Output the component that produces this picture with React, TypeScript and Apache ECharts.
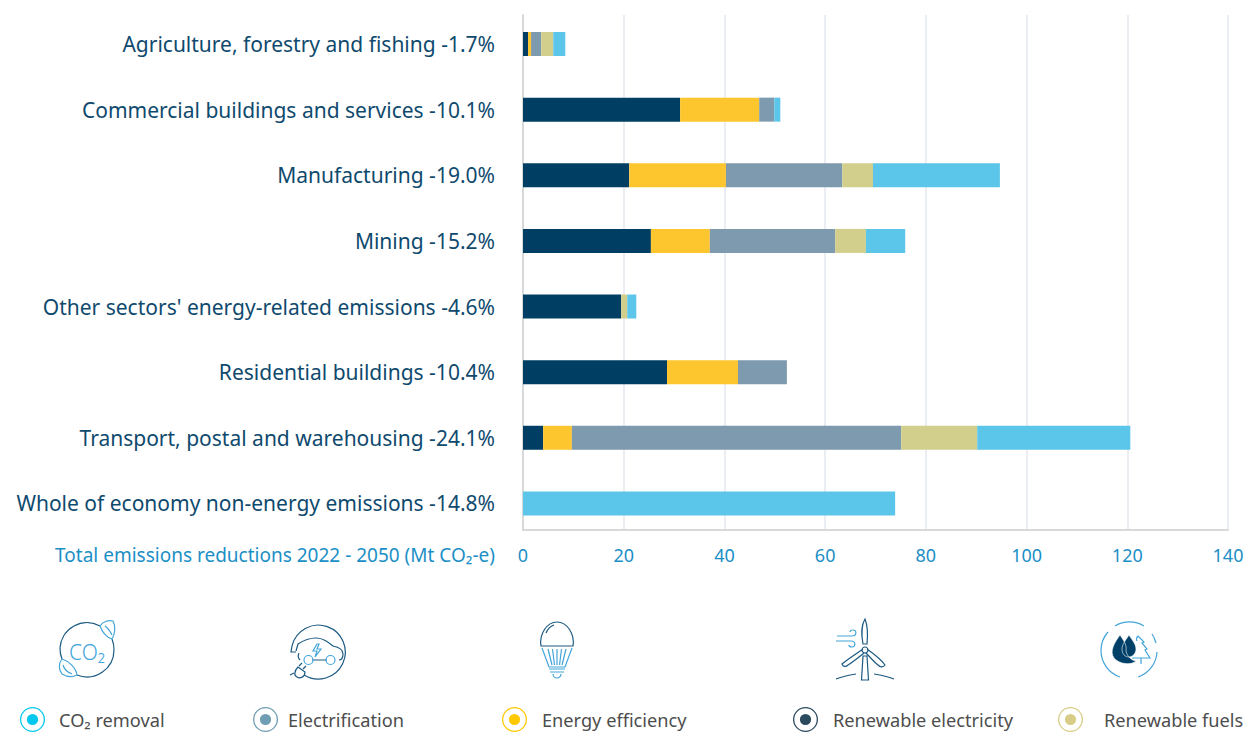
import React, { useEffect, useRef } from "react";
import * as echarts from "echarts";

const categories = [
  "Agriculture, forestry and fishing -1.7%",
  "Commercial buildings and services -10.1%",
  "Manufacturing -19.0%",
  "Mining -15.2%",
  "Other sectors' energy-related emissions -4.6%",
  "Residential buildings -10.4%",
  "Transport, postal and warehousing -24.1%",
  "Whole of economy non-energy emissions -14.8%",
];
const renewableElectricity = [1.0, 31.2, 21.1, 25.4, 19.5, 28.6, 4.0, 0];
const energyEfficiency = [0.6, 15.7, 19.2, 11.7, 0, 14.1, 5.7, 0];
const electrification = [2.0, 3.0, 23.1, 24.9, 0, 9.7, 65.4, 0];
const renewableFuels = [2.4, 0, 6.1, 6.1, 1.2, 0, 15.1, 0];
const co2Removal = [2.4, 1.2, 25.2, 7.8, 1.8, 0, 30.4, 73.9];
const axisTitle = "Total emissions reductions 2022 - 2050 (Mt CO₂-e)";

const FONT = "'Noto Sans'";
const DARK = "#1c5a82";
const BLUE = "#43a5da";

const ringIcon =
  "path://M0 -12.5A12.5 12.5 0 1 1 0 12.5A12.5 12.5 0 1 1 0 -12.5Z" +
  "M0 -11.2A11.2 11.2 0 1 0 0 11.2A11.2 11.2 0 1 0 0 -11.2Z" +
  "M0 -5.6A5.6 5.6 0 1 1 0 5.6A5.6 5.6 0 1 1 0 -5.6Z";

const shapes: Record<string, string> = {
  co2Ring:
    "M13 -24A27 27 0 0 0 -27 -2A27 27 0 0 0 -25 9M-10 25A27 27 0 0 0 27 0A27 27 0 0 0 25 -11",
  co2Leaf:
    "M13 -24C16 -29 22 -30 26 -29C29 -24 28 -16 25 -11C20 -12 15 -18 13 -24ZM18 -24C21 -22 23 -19 25 -15" +
    "M-25 9C-29 14 -28 20 -25 24C-20 27 -14 27 -10 25C-11 18 -18 11 -25 9ZM-24 15C-23 19 -20 22 -15 24",
  carRing: "M-26 -6A27 27 0 1 1 -14 23M-26 -6L-27 0L-22 0",
  carBody:
    "M-22 -1L-20 -8C-14 -12 -8 -14 -2 -14C5 -14 10 -10 15 -6C20 -5 25 -3 25 2C25 6 23 8 21 8M9 8L-6 8M-19 1C-20 3 -20 6 -18 8",
  carWheel:
    "M-14 8A4.5 4.5 0 1 1 -5 8A4.5 4.5 0 1 1 -14 8ZM8 8A4.5 4.5 0 1 1 17 8A4.5 4.5 0 1 1 8 8Z",
  carBolt: "M-1 -8L-5 -1L-1 -1L-3 5L3 -3L-1 -3L1 -8Z",
  carPlug: "M-20 15L-13 20C-13 25 -18 27 -21 25C-24 24 -24 19 -20 15ZM-24 21L-28 23M-19 14L-16 11M-15 17L-12 14",
  bulbTop: "M-16 -2C-18 -14 -10 -26 0 -26C10 -26 18 -14 16 -2ZM-16 -2L16 -2M-11 -15C-9 -20 -6 -22 -3 -23",
  bulbBase:
    "M-15 0L-8 19L8 19L15 0M-9 1L-5 17M-4.5 1L-2.5 17M0 1L0 17M4.5 1L2.5 17M9 1L5 17M-8 21L8 21M-7 24L7 24M-4 26A4 4 0 0 0 4 26",
  turbine:
    "M-2 -6C-4 -16 -3 -26 0 -31C2 -26 3 -16 2 -6ZM2 -1C9 4 16 9 20 15C18 18 15 17 13 15C9 12 5 7 1 3M-2 -1C-9 4 -17 9 -23 14C-22 17 -19 17 -17 15C-12 12 -6 7 -1 3" +
    "M-2 6L-3.5 30L3.5 30L2 6ZM-3 0A3 3 0 1 0 3 0A3 3 0 1 0 -3 0ZM-29 29C-22 26 -15 25 -9 24M9 24C15 25 22 26 29 29",
  wind: "M-28 -14L-13 -14C-8 -14 -8 -20 -12 -20C-14 -20 -15 -19 -15 -18M-29 -9L-14 -9C-9 -9 -9 -3 -13 -3C-15 -3 -16 -4 -16 -5",
  fuelRing:
    "M-14 -24A28 28 0 0 1 15 -24M23 -16A28 28 0 0 1 27 -7M28 2A28 28 0 0 1 9 27M-9 27A28 28 0 0 1 -28 0A28 28 0 0 1 -21 -18",
  fuelDrops:
    "M-9 -15C-5 -9 -2 -5 -3 1C-2 7 4 11 7 11C3 15 -9 15 -15 8C-20 1 -14 -8 -9 -15Z" +
    "M0 -15C3 -10 7 -6 7 -1C7 4 3 7 0 7C-4 7 -7 4 -7 -1C-7 -6 -3 -10 0 -15Z",
  fuelTree:
    "M9 -14L15 -8L13 -7L18 -1L16 0L21 8L3 8M8 -9C7 -11 8 -13 9 -14M12 8L12 14",
};
Object.keys(shapes).forEach((k) =>
  echarts.graphic.registerShape("ic_" + k, echarts.graphic.extendPath(shapes[k], {}) as any)
);

const stroke = (name: string, x: number, y: number, color: string, w = 1.2) => ({
  type: "ic_" + name,
  x,
  y,
  silent: true,
  style: { fill: "none", stroke: color, lineWidth: w },
});

const legendItems = [
  { name: "CO₂ removal", left: 20, gap: 9, icon: "#00c8ee" },
  { name: "Electrification", left: 253, gap: 5, icon: "#6f9db3" },
  { name: "Energy efficiency", left: 502, gap: 10, icon: "#ffc800" },
  { name: "Renewable electricity", left: 793, gap: 10, icon: "#2b4a5e" },
  { name: "Renewable fuels", left: 1058, gap: 16, icon: "#d8cd87" },
];

const seriesDefs = [
  { name: "Renewable electricity", data: renewableElectricity, color: "#003f63" },
  { name: "Energy efficiency", data: energyEfficiency, color: "#fec62e" },
  { name: "Electrification", data: electrification, color: "#7d9aae" },
  { name: "Renewable fuels", data: renewableFuels, color: "#d2ce8c" },
  { name: "CO₂ removal", data: co2Removal, color: "#5cc6ea" },
];

export default function App() {
  const ref = useRef<HTMLDivElement>(null);
  useEffect(() => {
    document.body.style.margin = "0";
    document.body.style.background = "#fff";
    const chart = echarts.init(ref.current!, null, { renderer: "svg" });
    chart.setOption({
      animation: false,
      backgroundColor: "#ffffff",
      textStyle: { fontFamily: FONT },
      grid: [
        { left: 523, width: 705, top: 11.2, height: 525 },
        { left: 523, width: 705, top: 15, height: 515 },
      ],
      xAxis: [
        { gridIndex: 0, type: "value", min: 0, max: 140, interval: 20, show: false },
        {
          gridIndex: 1,
          type: "value",
          min: 0,
          max: 140,
          interval: 20,
          axisLine: { show: true, lineStyle: { color: "#d9d9d9", width: 2 } },
          axisTick: { show: false },
          axisLabel: { color: "#1b8fc6", fontSize: 18, margin: 16, fontFamily: FONT },
          splitLine: { show: true, lineStyle: { color: "#e3e9ef", width: 1.5 } },
        },
      ],
      yAxis: [
        {
          gridIndex: 0,
          type: "category",
          inverse: true,
          data: categories,
          axisLine: { show: false },
          axisTick: { show: false },
          axisLabel: { color: "#0f4a6e", fontSize: 21, margin: 28, fontFamily: FONT },
        },
        {
          gridIndex: 1,
          type: "value",
          min: 0,
          max: 1,
          axisLine: { show: true, lineStyle: { color: "#d9d9d9", width: 2 } },
          axisTick: { show: false },
          axisLabel: { show: false },
          splitLine: { show: false },
        },
      ],
      legend: legendItems.map((l) => ({
        left: l.left - 5,
        top: 702,
        itemWidth: 25,
        itemHeight: 25,
        selectedMode: false,
        icon: ringIcon,
        data: [{ name: l.name, icon: ringIcon, itemStyle: { color: l.icon } }],
        textStyle: {
          color: "#4d4d4d",
          fontSize: 18.2,
          fontFamily: FONT,
          padding: [0, 0, 0, l.gap],
        },
      })),
      series: seriesDefs.map((s) => ({
        type: "bar",
        name: s.name,
        stack: "total",
        xAxisIndex: 0,
        yAxisIndex: 0,
        barWidth: 24,
        data: s.data,
        itemStyle: { color: s.color },
      })),
      graphic: [
        {
          type: "text",
          right: 753,
          top: 545,
          silent: true,
          style: { text: axisTitle, fill: "#1b8fc6", font: `19px ${FONT}` },
        },
        stroke("co2Ring", 87, 650, DARK),
        stroke("co2Leaf", 87, 650, BLUE),
        {
          type: "text",
          x: 87,
          y: 652,
          silent: true,
          style: {
            text: "CO₂",
            fill: BLUE,
            font: `300 21px ${FONT}`,
            align: "center",
            verticalAlign: "middle",
          },
        },
        stroke("carRing", 318, 652, DARK),
        stroke("carBody", 318, 652, DARK),
        stroke("carWheel", 318, 652, BLUE),
        stroke("carBolt", 318, 652, BLUE),
        stroke("carPlug", 318, 652, DARK),
        stroke("bulbTop", 557, 648, DARK),
        stroke("bulbBase", 557, 648, BLUE),
        stroke("wind", 865, 650, BLUE),
        stroke("turbine", 865, 650, DARK),
        stroke("fuelRing", 1129, 650, BLUE),
        { ...stroke("fuelDrops", 1129, 650, "#004068"), style: { fill: "#004068", stroke: "#ffffff", lineWidth: 0.6 } },
        stroke("fuelTree", 1129, 650, BLUE),
      ],
    });
    return () => chart.dispose();
  }, []);
  return <div ref={ref} style={{ position: "fixed", left: 0, top: 0, width: 1248, height: 734 }} />;
}
